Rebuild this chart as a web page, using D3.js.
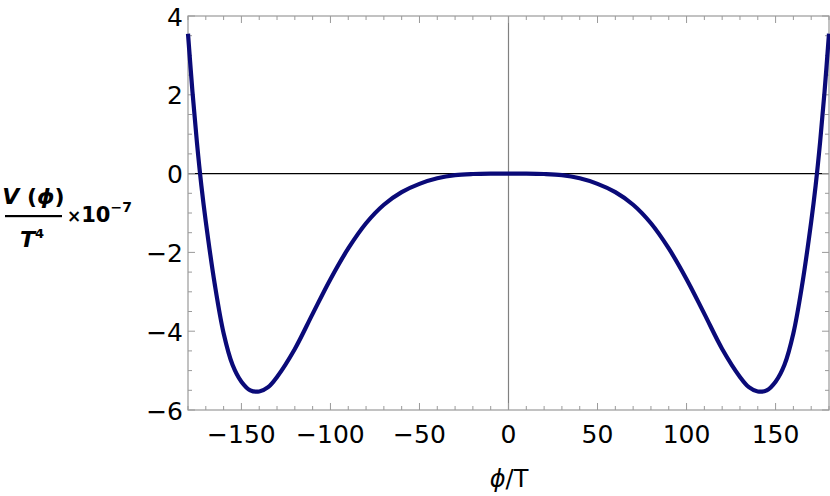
<!DOCTYPE html>
<html>
<head>
<meta charset="utf-8">
<script src="https://cdn.jsdelivr.net/npm/d3@7"></script>
<style>
  html, body { margin: 0; padding: 0; background: #fff; }
  svg { display: block; }
</style>
</head>
<body>
<svg id="chart" width="830" height="496"></svg>
<script>
// ---- data ----
const phiValues = [-180, -177.5, -175, -172.5, -170, -165, -160, -155, -150, -145, -140, -135, -130, -120, -110, -100, -90, -80, -70, -60, -50, -40, -30, -20, -10, 0,
                   10, 20, 30, 40, 50, 60, 70, 80, 90, 100, 110, 120, 130, 135, 140, 145, 150, 155, 160, 165, 170, 172.5, 175, 177.5, 180];
const potentialValues = [3.55, 2.08, 0.80, -0.30, -1.22, -2.80, -4.05, -4.85, -5.28, -5.50, -5.53, -5.42, -5.16, -4.45, -3.56, -2.68, -1.90, -1.26, -0.79, -0.47, -0.26, -0.12, -0.04, -0.01, 0, 0,
                         0, -0.01, -0.04, -0.12, -0.26, -0.47, -0.79, -1.26, -1.90, -2.68, -3.56, -4.45, -5.16, -5.42, -5.53, -5.50, -5.28, -4.85, -4.05, -2.80, -1.22, -0.30, 0.80, 2.08, 3.55];
const xTicks = [-150, -100, -50, 0, 50, 100, 150];
const yTicks = [-6, -4, -2, 0, 2, 4];
const xTickLabels = ["\u2212150", "\u2212100", "\u221250", "0", "50", "100", "150"];
const yTickLabels = ["\u22126", "\u22124", "\u22122", "0", "2", "4"];

// ---- layout ----
const svg = d3.select("#chart");
const pLeft = 188, pRight = 829, pTop = 16, pBottom = 410;
const x = d3.scaleLinear().domain([-180, 180]).range([pLeft, pRight]);
const y = d3.scaleLinear().domain([-6, 4]).range([pBottom, pTop]);
const frameColor = "#9a9a9a";
const fontFam = "'DejaVu Sans', sans-serif";

// minor tick arrays
const xMinor = d3.range(-180, 181, 10).filter(v => v % 50 !== 0);
const yMinor = d3.range(-6, 4.01, 0.5).filter(v => Math.abs(v % 2) > 1e-9);

// axes lines at origin
svg.append("line").attr("x1", x(0)).attr("x2", x(0)).attr("y1", pTop).attr("y2", pBottom)
  .attr("stroke", "#808080").attr("stroke-width", 1.2);
svg.append("line").attr("x1", pLeft).attr("x2", pRight).attr("y1", y(0)).attr("y2", y(0))
  .attr("stroke", "#000").attr("stroke-width", 1.1);

// frame
svg.append("rect").attr("x", pLeft).attr("y", pTop).attr("width", pRight - pLeft).attr("height", pBottom - pTop)
  .attr("fill", "none").attr("stroke", frameColor).attr("stroke-width", 1.2);

const gT = svg.append("g").attr("stroke", frameColor).attr("stroke-width", 1);
const majL = 7, minL = 4;
xTicks.forEach(v => {
  gT.append("line").attr("x1", x(v)).attr("x2", x(v)).attr("y1", pBottom).attr("y2", pBottom - majL);
  gT.append("line").attr("x1", x(v)).attr("x2", x(v)).attr("y1", pTop).attr("y2", pTop + majL);
});
xMinor.forEach(v => {
  gT.append("line").attr("x1", x(v)).attr("x2", x(v)).attr("y1", pBottom).attr("y2", pBottom - minL);
  gT.append("line").attr("x1", x(v)).attr("x2", x(v)).attr("y1", pTop).attr("y2", pTop + minL);
});
yTicks.forEach(v => {
  gT.append("line").attr("x1", pLeft).attr("x2", pLeft + majL).attr("y1", y(v)).attr("y2", y(v));
  gT.append("line").attr("x1", pRight).attr("x2", pRight - majL).attr("y1", y(v)).attr("y2", y(v));
});
yMinor.forEach(v => {
  gT.append("line").attr("x1", pLeft).attr("x2", pLeft + minL).attr("y1", y(v)).attr("y2", y(v));
  gT.append("line").attr("x1", pRight).attr("x2", pRight - minL).attr("y1", y(v)).attr("y2", y(v));
});

// tick labels
xTicks.forEach((v, i) => {
  svg.append("text").attr("x", x(v)).attr("y", 443).attr("text-anchor", "middle")
    .attr("font-family", fontFam).attr("font-size", 25).attr("fill", "#000").text(xTickLabels[i]);
});
yTicks.forEach((v, i) => {
  svg.append("text").attr("x", 183).attr("y", y(v) + 9.5).attr("text-anchor", "end")
    .attr("font-family", fontFam).attr("font-size", 25).attr("fill", "#000").text(yTickLabels[i]);
});

// curve
const pts = phiValues.map((p, i) => [p, potentialValues[i]]);
const line = d3.line().x(d => x(d[0])).y(d => y(d[1])).curve(d3.curveCatmullRom.alpha(0.5));
svg.append("path").datum(pts).attr("d", line).attr("fill", "none")
  .attr("stroke", "#0a0a78").attr("stroke-width", 4.2).attr("stroke-linejoin", "round");

// x label
const xl = svg.append("text").attr("x", 509).attr("y", 487).attr("text-anchor", "middle")
  .attr("font-family", fontFam).attr("font-size", 24).attr("fill", "#000");
xl.append("tspan").attr("font-style", "italic").text("\u03D5");
xl.append("tspan").text("/T");

// y label: fraction V(ϕ)/T^4 ×10^-7
const yl = svg.append("g").attr("font-family", fontFam).attr("font-weight", "bold").attr("fill", "#000");
const num = yl.append("text").attr("x", 33.5).attr("y", 204).attr("text-anchor", "middle").attr("font-size", 22);
num.append("tspan").attr("font-style", "italic").text("V");
num.append("tspan").text(" (");
num.append("tspan").attr("font-style", "italic").text("\u03D5");
num.append("tspan").text(")");
yl.append("rect").attr("x", 5).attr("y", 215).attr("width", 57).attr("height", 2.2).attr("fill", "#000");
const den = yl.append("text").attr("x", 20).attr("y", 247).attr("font-size", 22);
den.append("tspan").attr("font-style", "italic").text("T");
den.append("tspan").attr("font-size", 13).attr("dy", -9).text("4");
const mult = yl.append("text").attr("x", 67).attr("y", 222).attr("font-size", 21);
mult.append("tspan").attr("font-size", 17).text("\u00D7");
mult.append("tspan").text("10");
mult.append("tspan").attr("font-size", 14).attr("dy", -10).text("\u22127");
</script>
</body>
</html>
